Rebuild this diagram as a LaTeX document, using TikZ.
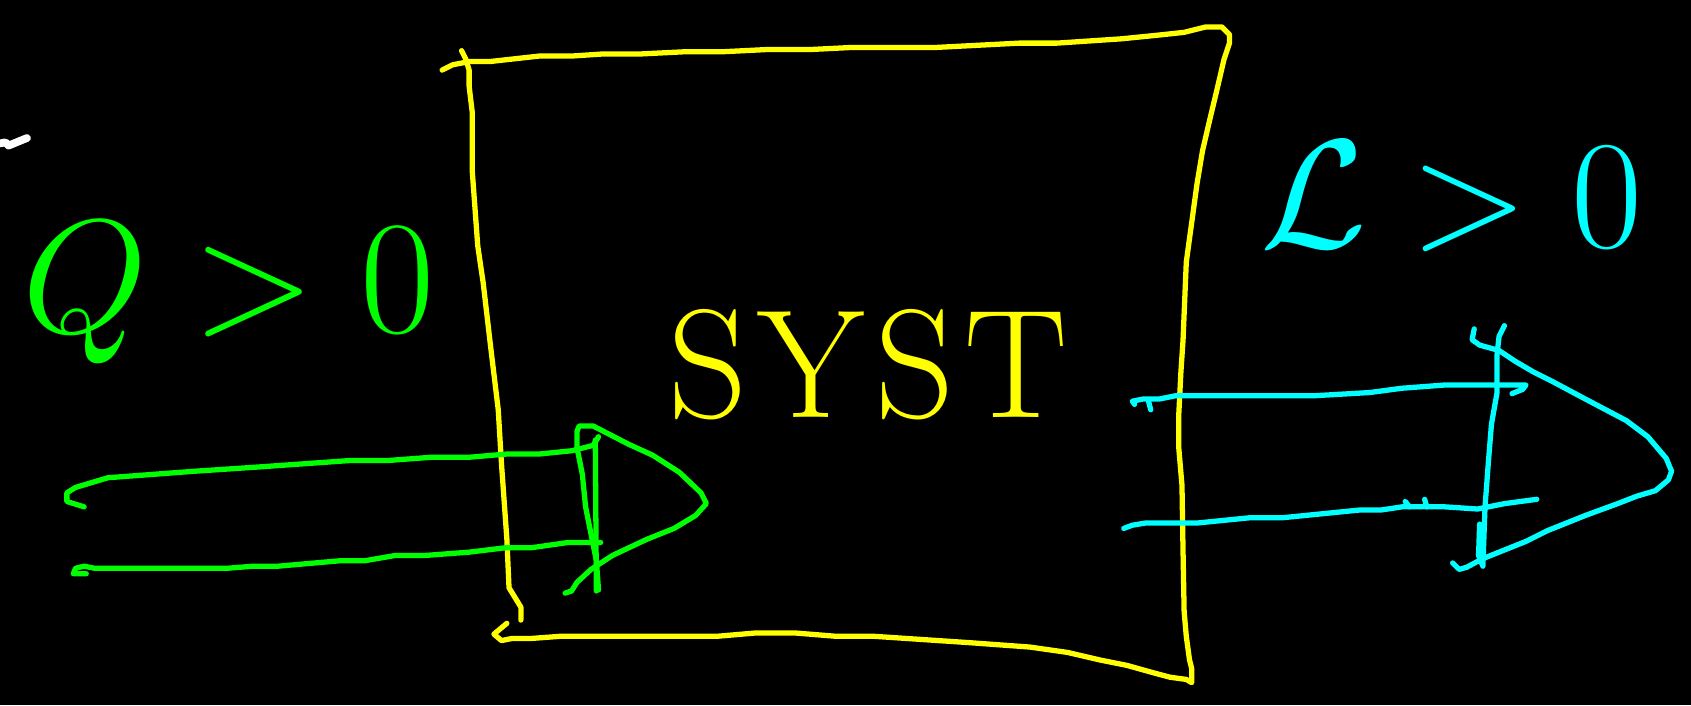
\RequirePackage{fix-cm}
\documentclass[tikz,border=0pt]{standalone}
\usepackage{amsmath}
\usepackage{tikz}
\usetikzlibrary{positioning, calc}
\usepackage{xcolor}
\definecolor{penGreen}{RGB}{0,255,0}
\definecolor{penYellow}{RGB}{255,255,0}
\definecolor{penCyan}{RGB}{0,255,255}
\tikzstyle{pen} = [line width=1.5pt, line join=round, line cap=round]
\tikzstyle{label} = [inner sep=0pt, font=\fontsize{46}{54}\selectfont]

\begin{document}
\begin{tikzpicture}[x=0.10784mm, y=-0.10784mm]
  % Board
  \fill[black] (0,0) rectangle (1568,654);
  \useasboundingbox (0,0) rectangle (1568,654);

  % Stray chalk mark
  \draw[pen, white, line width=2.2pt] (0,133) -- (5,132) -- (8,135) -- (25,128);

  % System box
  \draw[pen, penYellow] (410,65) -- (420,60) -- (436,57) -- (455,57) -- (500,52) -- (530,52) -- (560,50) -- (595,50) -- (635,48) -- (670,48) -- (710,46) -- (750,46) -- (790,44) -- (868,44) -- (945,40) -- (980,40) -- (1040,36) -- (1070,33) -- (1098,30) -- (1118,25) -- (1133,25) -- (1140,32) -- (1140,40) -- (1135,55) -- (1128,85) -- (1122,110) -- (1115,140) -- (1110,170) -- (1100,243) -- (1097,315) -- (1095,345) -- (1093,385) -- (1093,415) -- (1096,450) -- (1097,512) -- (1098,567) -- (1100,590) -- (1103,612) -- (1105,620) -- (1105,633) -- (1100,630) -- (1085,628) -- (1070,624) -- (1045,617) -- (1020,612) -- (990,605) -- (955,600) -- (900,596) -- (810,590) -- (775,590) -- (738,587) -- (700,587) -- (665,590) -- (520,590) -- (493,592) -- (475,592) -- (465,594) -- (458,588) -- (470,578);
  \draw[pen, penYellow] (428,47) -- (432,55) -- (435,65) -- (435,80) -- (438,105) -- (438,160) -- (443,228) -- (448,262) -- (455,322) -- (462,380) -- (465,430) -- (470,500) -- (472,545) -- (483,563) -- (483,575);
  \node[label, penYellow, font=\fontsize{44}{52}\selectfont] (syst) at (805,338) {S\kern3pt Y\kern3pt S\kern3pt T};

  % Input: Q > 0
  \node[label, penGreen] (qin) at (212,272) {$Q > 0$};
  \draw[pen, penGreen] (78,470) -- (62,465) -- (62,457) -- (70,452) -- (100,443) -- (180,437) -- (240,433) -- (325,427) -- (360,427) -- (400,424) -- (435,424) -- (470,421) -- (500,421) -- (530,418) -- (550,413) -- (555,405);
  \draw[pen, penGreen] (80,532) -- (68,532) -- (70,527) -- (78,525) -- (88,527) -- (210,527) -- (235,525) -- (258,525) -- (315,520) -- (338,520) -- (367,515) -- (395,515) -- (435,512) -- (468,508) -- (492,508) -- (527,503) -- (557,503);
  \draw[pen, penGreen] (552,408) -- (553,548);
  \draw[pen, penGreen] (524,550) -- (530,548) -- (535,540) -- (548,528) -- (568,515) -- (600,500) -- (625,490) -- (645,478) -- (655,467) -- (650,457) -- (630,438) -- (605,422) -- (583,412) -- (550,395) -- (537,395) -- (535,400) -- (535,415) -- (540,440) -- (543,470) -- (550,505) -- (553,520) -- (555,547);

  % Output: L > 0
  \node[label, penCyan, font=\fontsize{44}{52}\selectfont] (lout) at (1346,182) {$\mathcal{L} > 0$};
  \draw[pen, penCyan] (1052,375) -- (1050,372) -- (1060,370) -- (1075,370) -- (1090,367) -- (1130,367) -- (1218,367) -- (1270,364) -- (1300,360) -- (1340,357) -- (1415,357) -- (1412,361) -- (1402,365);
  \draw[pen, penCyan] (1065,372) -- (1067,380);
  \draw[pen, penCyan] (1042,490) -- (1050,487) -- (1062,485) -- (1110,485) -- (1160,480) -- (1190,480) -- (1260,473) -- (1280,473) -- (1300,470) -- (1340,470) -- (1370,472) -- (1395,467) -- (1425,463);
  \draw[pen, penCyan] (1303,465) -- (1307,470);
  \draw[pen, penCyan] (1321,463) -- (1323,470);
  \draw[pen, penCyan] (1395,302) -- (1390,312) -- (1388,330) -- (1388,365) -- (1383,393) -- (1380,430) -- (1377,470) -- (1375,525) -- (1371,515) -- (1372,486);
  \draw[pen, penCyan] (1367,305) -- (1365,315) -- (1372,320) -- (1390,325) -- (1405,335) -- (1422,345) -- (1440,354) -- (1470,370) -- (1508,390) -- (1528,405) -- (1545,425) -- (1550,437) -- (1547,445) -- (1535,455) -- (1518,460) -- (1500,467) -- (1470,478) -- (1435,492) -- (1415,502) -- (1395,510) -- (1375,518) -- (1360,526) -- (1353,528) -- (1347,522);
\end{tikzpicture}
\end{document}
